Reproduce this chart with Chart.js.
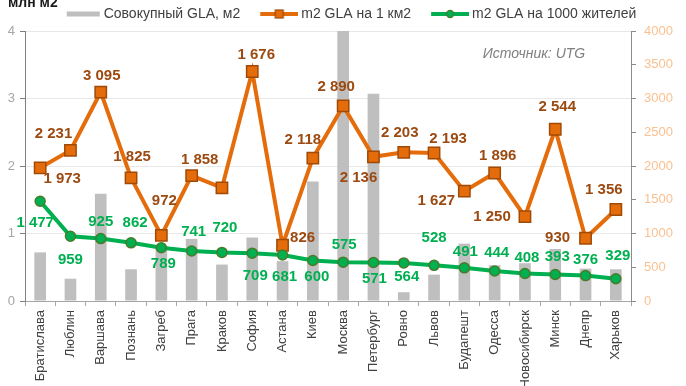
<!DOCTYPE html>
<html><head><meta charset="utf-8">
<script src="https://cdn.jsdelivr.net/npm/chart.js@4/dist/chart.umd.min.js"></script>
<style>html,body{margin:0;padding:0;background:#fff;overflow:hidden}#wrap{width:686px;height:386px;position:relative}</style>
</head><body><div id="wrap"><canvas id="c" width="686" height="386"></canvas></div>
<script>
// ---- data ----
const categories = ['Братислава','Люблин','Варшава','Познань','Загреб','Прага','Краков','София','Астана','Киев','Москва','Петербург','Ровно','Львов','Будапешт','Одесса','Новосибирск','Минск','Днепр','Харьков'];
const totalGLA = [0.72,0.33,1.59,0.47,0.80,0.92,0.54,0.94,0.59,1.77,4.00,3.07,0.13,0.39,0.85,0.53,0.56,0.77,0.48,0.47];
const glaPerKm2 = [1973,2231,3095,1825,972,1858,1676,3400,826,2118,2890,2136,2203,2193,1627,1896,1250,2544,930,1356];
const glaPer1000 = [1477,959,925,862,789,741,720,709,681,600,575,571,564,528,491,444,408,393,376,329];
const perKm2Labels = ['1 973','2 231','3 095','1 825','972','1 858','','1 676','826','2 118','2 890','2 136','2 203','2 193','1 627','1 896','1 250','2 544','930','1 356'];
const per1000Labels = ['1 477','959','925','862','789','741','720','709','681','600','575','571','564','528','491','444','408','393','376','329'];
const leftTickValues = [0,1,2,3,4];
const rightTickValues = [0,500,1000,1500,2000,2500,3000,3500,4000];
const seriesNames = ['Совокупный GLA, м2','m2 GLA на 1 км2','m2 GLA на 1000 жителей'];
const unitTitle = 'млн м2';
const sourceNote = 'Источник: UTG';

// ---- label placement (layout, not data) ----
const orangeOffsets = [[22,11],[-17,-17],[1,-16],[1,-21],[3,-35],[8,-16],[0,0],[4,-17],[20,-7],[-10,-18],[-7,-19],[-15,21],[-4,-19],[14,-14],[-28,10],[3,-17],[-33,0],[2,-22],[-28,0],[-12,-20]];
const greenOffsets = [[-5,22],[0,24],[0,-17],[4,-20],[2,16],[2,-19],[3,-25],[3,23],[2,22],[4,16],[1,-17],[1,16],[3,14],[0,-28],[1,-16],[2,-18],[2,-16],[2,-18],[0,-16],[2,-23]];

const FONT = "'Liberation Sans', Arial, sans-serif";
const C_BAR = '#bfbfbf', C_OR = '#e46c0a', C_OR_B = '#a04a06', C_OR_T = '#9c4a10';
const C_GR = '#00b050', C_GR_B = '#4a7a2a', C_GR_T = '#00b050';

function sym(kind){
  const cv = document.createElement('canvas'); cv.width = 55; cv.height = 12;
  const g = cv.getContext('2d');
  if (kind === 0){ g.fillStyle = C_BAR; g.fillRect(21, 3.5, 33, 5); }
  else {
    g.strokeStyle = kind === 1 ? C_OR : C_GR; g.lineWidth = 4;
    g.beginPath(); g.moveTo(17, 6); g.lineTo(55, 6); g.stroke();
    g.lineWidth = 1.2;
    if (kind === 1){ g.fillStyle = C_OR; g.strokeStyle = C_OR_B; g.fillRect(32,2,8,8); g.strokeRect(32,2,8,8); }
    else { g.fillStyle = C_GR; g.strokeStyle = C_GR_B; g.beginPath(); g.arc(36,6,3.6,0,Math.PI*2); g.fill(); g.stroke(); }
  }
  return cv;
}
const syms = [sym(0), sym(1), sym(2)];

const labelPlugin = {
  id: 'pointLabels',
  afterDatasetsDraw(chart){
    const ctx = chart.ctx;
    chart.data.datasets.forEach((ds, i) => {
      if (!ds.pointLabelTexts) return;
      const meta = chart.getDatasetMeta(i);
      ctx.save();
      ctx.font = 'bold 15px ' + FONT;
      ctx.fillStyle = ds.pointLabelColor;
      ctx.textAlign = 'center'; ctx.textBaseline = 'middle';
      meta.data.forEach((pt, j) => {
        const t = ds.pointLabelTexts[j]; if (!t) return;
        const o = ds.pointLabelOffsets[j];
        ctx.fillText(t, pt.x + o[0], pt.y + o[1]);
      });
      ctx.restore();
    });
  },
  afterDraw(chart){
    const ctx = chart.ctx;
    ctx.save();
    ctx.font = 'bold 14px ' + FONT; ctx.fillStyle = '#1a1a1a';
    ctx.textAlign = 'left'; ctx.textBaseline = 'alphabetic';
    ctx.fillText(unitTitle, 8, 7);
    ctx.font = 'italic 14px ' + FONT; ctx.fillStyle = '#7f7f7f';
    ctx.textAlign = 'center'; ctx.textBaseline = 'middle';
    ctx.fillText(sourceNote, 534, 54);
    ctx.restore();
  }
};

new Chart(document.getElementById('c'), {
  type: 'bar',
  data: {
    labels: categories,
    datasets: [
      { type: 'line', label: seriesNames[2], data: glaPer1000, yAxisID: 'y2', order: 1,
        borderColor: C_GR, borderWidth: 4, backgroundColor: C_GR, pointBackgroundColor: C_GR,
        pointBorderColor: C_GR_B, pointBorderWidth: 1.5, pointRadius: 5, pointStyle: 'circle', tension: 0,
        pointLabelTexts: per1000Labels, pointLabelOffsets: greenOffsets, pointLabelColor: C_GR_T },
      { type: 'line', label: seriesNames[1], data: glaPerKm2, yAxisID: 'y2', order: 2,
        borderColor: C_OR, borderWidth: 4, backgroundColor: C_OR, pointBackgroundColor: C_OR,
        pointBorderColor: C_OR_B, pointBorderWidth: 1.5, pointRadius: 8, pointStyle: 'rect', tension: 0,
        pointLabelTexts: perKm2Labels, pointLabelOffsets: orangeOffsets, pointLabelColor: C_OR_T },
      { type: 'bar', label: seriesNames[0], data: totalGLA, yAxisID: 'y', order: 3,
        backgroundColor: C_BAR, borderWidth: 0, barPercentage: 0.385, categoryPercentage: 1 }
    ]
  },
  options: {
    responsive: false, animation: false, devicePixelRatio: 1,
    layout: { padding: 0 },
    plugins: {
      tooltip: { enabled: false },
      legend: {
        position: 'top', align: 'center',
        labels: {
          usePointStyle: true, pointStyleWidth: 47, padding: 7,
          font: { family: FONT, size: 14 }, color: '#404040',
          generateLabels: () => seriesNames.map((n, k) => ({
            text: n, pointStyle: syms[k], fontColor: '#404040', hidden: false,
            lineWidth: 0, strokeStyle: 'rgba(0,0,0,0)', fillStyle: 'rgba(0,0,0,0)', datasetIndex: 2 - k
          }))
        }
      }
    },
    scales: {
      x: {
        offset: true,
        grid: { display: true, drawOnChartArea: false, offset: true, color: '#a6a6a6', tickLength: 5 },
        border: { display: true, color: '#a6a6a6', width: 1 },
        ticks: { autoSkip: false, minRotation: 90, maxRotation: 90, padding: 4, color: '#404040', font: { family: FONT, size: 13 } },
        afterFit(s){ s.height = 85; }
      },
      y: {
        position: 'left', min: leftTickValues[0], max: leftTickValues[leftTickValues.length-1],
        ticks: { stepSize: leftTickValues[1]-leftTickValues[0], padding: 5, color: '#a6a6a6', font: { family: FONT, size: 13 },
          callback: (v) => String(v) },
        grid: { color: '#e8e8e8', tickColor: '#808080', tickLength: 5 },
        border: { display: true, color: '#808080', width: 1 },
        afterFit(s){ s.width = 25; }
      },
      y2: {
        position: 'right', min: rightTickValues[0], max: rightTickValues[rightTickValues.length-1],
        ticks: { stepSize: rightTickValues[1]-rightTickValues[0], padding: 8, color: '#fac090', font: { family: FONT, size: 13 },
          callback: (v) => String(v) },
        grid: { drawOnChartArea: false, tickColor: '#8c8c8c', tickLength: 5 },
        border: { display: true, color: '#8c8c8c', width: 1 },
        afterFit(s){ s.width = 55; }
      }
    }
  },
  plugins: [labelPlugin]
});
</script>
</body></html>
